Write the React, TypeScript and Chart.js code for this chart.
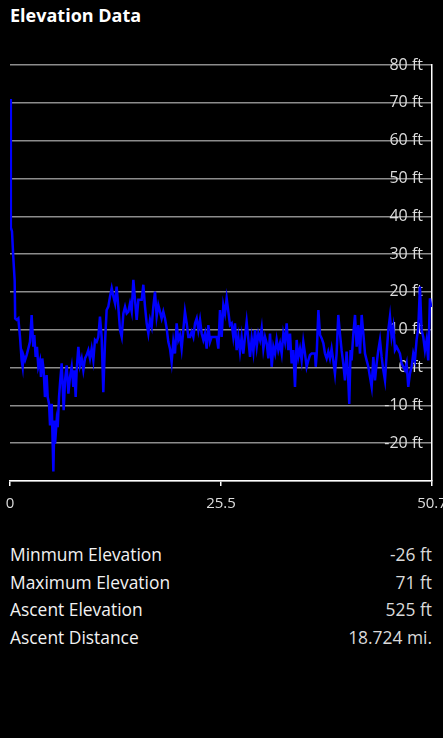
import React, { useEffect, useRef } from "react";
import { Chart, registerables } from "chart.js";
Chart.register(...registerables);

const distances: number[] = [
  0, 0.1, 0.24, 0.4, 0.56, 0.62, 0.8, 1.0, 1.2, 1.4,
  1.52, 1.6, 1.8, 2.0, 2.2, 2.4, 2.6, 2.8, 2.92, 3.08,
  3.24, 3.4, 3.6, 3.72, 3.88, 4.04, 4.2, 4.4, 4.53, 4.69,
  4.81, 5.01, 5.21, 5.33, 5.41, 5.61, 5.73, 5.89, 6.01, 6.21,
  6.33, 6.45, 6.61, 6.81, 7.01, 7.21, 7.41, 7.61, 7.73, 7.89,
  8.01, 8.21, 8.41, 8.61, 8.81, 9.01, 9.21, 9.41, 9.61, 9.81,
  10.01, 10.21, 10.41, 10.61, 10.81, 11.01, 11.21, 11.41, 11.61, 11.81,
  12.02, 12.22, 12.42, 12.62, 12.81, 13.01, 13.22, 13.42, 13.62, 13.82,
  14.02, 14.22, 14.42, 14.62, 14.82, 15.02, 15.22, 15.42, 15.82, 16.02,
  16.22, 16.42, 16.62, 16.82, 17.02, 17.22, 17.42, 17.62, 17.82, 18.02,
  18.22, 18.42, 18.62, 18.82, 19.02, 19.22, 19.42, 19.62, 19.82, 20.02,
  20.22, 20.42, 20.62, 20.82, 21.02, 21.23, 21.43, 21.63, 21.83, 22.03,
  22.23, 22.43, 22.63, 22.83, 23.03, 23.23, 23.43, 23.63, 23.83, 24.03,
  24.23, 24.63, 24.83, 25.03, 25.23, 25.43, 25.63, 25.83, 26.03, 26.23,
  26.43, 26.63, 26.83, 27.03, 27.23, 27.43, 27.63, 27.83, 28.03, 28.23,
  28.43, 28.64, 28.84, 29.04, 29.24, 29.44, 29.64, 29.84, 30.04, 30.24,
  30.44, 30.64, 30.84, 31.04, 31.24, 31.44, 31.64, 31.84, 32.04, 32.24,
  32.44, 32.64, 32.84, 33.04, 33.24, 33.44, 33.64, 33.84, 34.04, 34.24,
  34.44, 34.64, 34.84, 35.04, 35.24, 35.44, 35.64, 35.84, 36.04, 36.24,
  36.65, 36.73, 36.85, 37.05, 37.25, 37.45, 37.65, 37.84, 38.04, 38.24,
  38.44, 38.64, 38.84, 39.04, 39.24, 39.44, 39.64, 39.84, 40.04, 40.24,
  40.44, 40.64, 40.76, 40.92, 41.04, 41.25, 41.45, 41.65, 41.85, 42.05,
  42.25, 42.45, 42.65, 42.85, 43.05, 43.25, 43.45, 43.65, 43.85, 44.05,
  44.25, 44.45, 44.65, 44.85, 45.05, 45.25, 45.45, 45.65, 45.85, 46.05,
  46.25, 46.45, 46.65, 46.85, 47.05, 47.25, 47.45, 47.65, 47.85, 48.05,
  48.25, 48.45, 48.65, 48.85, 49.05, 49.25, 49.45, 49.65, 49.85, 50.05,
  50.25, 50.45, 50.6,
];

const elevations: number[] = [
  71, 37, 36, 29, 23, 13, 12.6, 13, 8.1, 1.9,
  0.2, 3.3, 1.9, 3.3, 5, 6.8, 13.9, 5.5, 8.6, 2.8,
  5.5, 0.2, 1.9, -2.5, 2.4, -0.7, -7.8, -2, -7.8, -9.6,
  -15.3, -9.6, -27.5, -14, -20.2, -14, -15.8, -7.8, -4.2, 1.1,
  -5.1, -11.3, -3.4, 0.6, -6.9, -2.5, 0.2, -5.1, -0.7, -7.8,
  -0.7, 5.5, 0.6, 2.4, -0.7, 2.4, 3.3, 4.6, 2.4, 5,
  1.9, 7.3, 6.8, 8.1, 13.5, 8.1, -6.5, 6.4, 15.2, 16.1,
  18.8, 21, 18.8, 17, 21.4, 16.1, 9.9, 8.1, 14.3, 16.1,
  14.3, 14.8, 17, 14.8, 23.2, 17.9, 12.6, 17.9, 17.9, 21.9,
  16.1, 11.7, 9, 12.6, 10.8, 16.1, 20.1, 13.5, 16.5, 14.8,
  13, 14.8, 13, 10.4, 6.8, 5, 1.5, 6.8, 3.7, 11.7,
  7.3, 8.6, 5, 9.9, 14.8, 11.7, 8.1, 8.1, 9.5, 8.1,
  11.7, 13, 9.9, 12.6, 9, 7.3, 9, 5, 11.2, 6.8,
  8.1, 8.1, 8.1, 5, 15.2, 8.1, 16.5, 14.3, 18.3, 14.8,
  11.2, 11.7, 8.1, 11.7, 4.6, 8.1, 4.2, 8.1, 3.7, 8.1,
  12.1, 7.3, 2.8, 7.7, 4.2, 9.9, 5.5, 9, 7.3, 10.4,
  5, 8.1, 6.4, 2.4, 9, 0.2, 5.5, 3.7, 7.3, 4.6,
  6.4, 3.7, 9, 6.8, 11.7, 4.6, 9, 1.1, 4.6, -5.1,
  7.3, 2.8, 5, 1.9, 6.8, 3.7, 0.2, 1.9, 3.3, 3.7,
  3.7, 0.2, 3.7, 15.2, 8.6, 7.7, 6.4, 3.7, 2.4, 4.2,
  2.4, 5, 1.9, -1.6, 3.7, 13.9, 9, 4.6, 1.1, -3.4,
  4.2, -3.4, -9.6, 4.6, 1.9, 9, 13.9, 5.5, 11.2, 3.7,
  13.9, 9, 3.7, 1.9, 0.2, -2.5, -5.1, 2.8, -3.4, 1.1,
  4.6, 7.3, 2.8, -0.7, -3.4, 3.7, 9.9, 13.5, 8.1, 10.8,
  4.6, 5.5, 4.6, 3.7, 1.1, 0.2, -0.7, 1.1, -5.1, -1.6,
  0.2, 3.7, 1.9, 7.3, 10.4, 21.4, 9.9, 8.1, 4.6, 7.3,
  1.9, 18.3, 16,
];

const xTickValues: number[] = [0, 25.35, 50.7];
const xTickLabels: string[] = ["0", "25.5", "50.7"];
const yMin = -30;
const yMax = 80;
const yStep = 10;
const yUnit = "ft";

const titleText = "Elevation Data";
const statLabels: string[] = ["Minmum Elevation", "Maximum Elevation", "Ascent Elevation", "Ascent Distance"];
const statValues: string[] = ["-26 ft", "71 ft", "525 ft", "18.724 mi."];

const FONT = "'Open Sans', 'Noto Sans', sans-serif";

function ElevationChart() {
  const ref = useRef<HTMLCanvasElement | null>(null);
  useEffect(() => {
    if (!ref.current) return;
    const points = distances.map((d, i) => ({ x: d, y: elevations[i] }));
    const chart = new Chart(ref.current, {
      type: "line",
      data: {
        datasets: [
          {
            data: points,
            borderColor: "#0000ff",
            borderWidth: 2.5,
            pointRadius: 0,
            tension: 0,
            fill: false,
          },
        ],
      },
      options: {
        animation: false,
        responsive: false,
        layout: { padding: { top: 35, left: 10, right: 0, bottom: 0 } },
        plugins: { legend: { display: false }, tooltip: { enabled: false } },
        scales: {
          x: {
            type: "linear",
            min: 0,
            max: 50.7,
            afterBuildTicks: (scale: any) => {
              scale.ticks = xTickValues.map((v) => ({ value: v }));
            },
            afterFit: (scale: any) => {
              scale.height = 40;
              scale.paddingLeft = 0;
              scale.paddingRight = 0;
            },
            ticks: {
              autoSkip: false,
              maxRotation: 0,
              padding: 9,
              color: "#dcdcdc",
              font: { family: FONT, size: 15 },
              callback: (_v: any, i: number) => xTickLabels[i],
            },
            grid: {
              drawOnChartArea: false,
              drawTicks: true,
              tickLength: 5,
              color: "#ffffff",
              lineWidth: 1.5,
            },
            border: { display: true, color: "#ffffff", width: 1.5 },
          },
          y: {
            position: "right",
            min: yMin,
            max: yMax,
            afterFit: (scale: any) => {
              scale.width = 28;
            },
            ticks: {
              stepSize: yStep,
              mirror: true,
              padding: -9,
              color: "#dcdcdc",
              font: { family: FONT, size: 16 },
              callback: (v: any) => (v === yMin ? "" : `${v} ${yUnit}`),
            },
            grid: {
              drawTicks: false,
              color: "#8c8c8c",
              lineWidth: 1.5,
            },
            border: { display: true, color: "#ffffff", width: 1.5 },
          },
        },
      },
    });
    return () => chart.destroy();
  }, []);
  return <canvas ref={ref} width={460} height={491} style={{ display: "block" }} />;
}

export default function App() {
  useEffect(() => {
    document.body.style.margin = "0";
    document.body.style.background = "#000";
  }, []);
  return (
    <div
      style={{
        position: "relative",
        width: 443,
        height: 738,
        background: "#000",
        overflow: "hidden",
        fontFamily: FONT,
      }}
    >
      <div
        style={{
          position: "absolute",
          left: 10,
          top: 3,
          fontSize: 18,
          lineHeight: "24px",
          fontWeight: 700,
          color: "#ffffff",
        }}
      >
        {titleText}
      </div>
      <div style={{ position: "absolute", left: 0, top: 30, width: 460, height: 491 }}>
        <ElevationChart />
      </div>
      <div style={{ position: "absolute", left: 10, top: 541, width: 422 }}>
        {statLabels.map((label, i) => (
          <div
            key={label}
            style={{
              display: "flex",
              justifyContent: "space-between",
              fontSize: 17.4,
              lineHeight: "27.6px",
            }}
          >
            <span style={{ color: "#f2f2f2" }}>{label}</span>
            <span style={{ color: "#dadada" }}>{statValues[i]}</span>
          </div>
        ))}
      </div>
    </div>
  );
}
